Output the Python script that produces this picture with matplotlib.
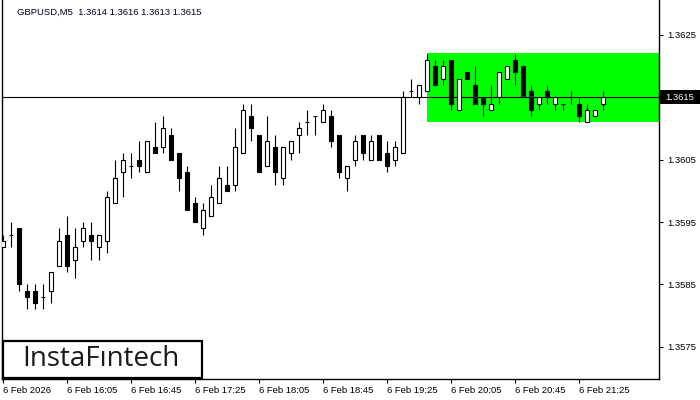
import matplotlib
matplotlib.use("Agg")
import matplotlib.pyplot as plt
import matplotlib.transforms as mtransforms
from matplotlib.patches import Rectangle

# GBPUSD M5 candles, 6 Feb 2026 from 15:25
opens = [1.3591, 1.3593, 1.3594, 1.3584, 1.3584, 1.3583, 1.3584, 1.3588, 1.3593, 1.3589,
         1.3592, 1.3593, 1.3591, 1.3592, 1.3598, 1.3603, 1.3604, 1.3605, 1.3603, 1.3607,
         1.3607, 1.3609, 1.3606, 1.3603, 1.3598, 1.3594, 1.3596, 1.3598, 1.3601, 1.3601,
         1.3606, 1.3612, 1.3609, 1.3604, 1.3607, 1.3602, 1.3606, 1.3609, 1.3611, 1.3612,
         1.3611, 1.3612, 1.3609, 1.3602, 1.3605, 1.3609, 1.3605, 1.3609, 1.3606, 1.3605,
         1.3606, 1.3616, 1.3615, 1.3616, 1.3620, 1.3618, 1.3621, 1.3613, 1.3619, 1.3617,
         1.3615, 1.3613, 1.3615, 1.3618, 1.3621, 1.3620, 1.3616, 1.3614, 1.3616, 1.3614,
         1.3614, 1.3615, 1.3614, 1.3611, 1.3612, 1.3614]
highs = [1.3593, 1.3595, 1.3594, 1.3585, 1.3585, 1.3585, 1.3587, 1.3594, 1.3596, 1.3594,
         1.3595, 1.3595, 1.3593, 1.3600, 1.3605, 1.3606, 1.3606, 1.3608, 1.3608, 1.3611,
         1.3612, 1.3610, 1.3606, 1.3604, 1.3599, 1.3598, 1.3601, 1.3604, 1.3604, 1.3610,
         1.3614, 1.3614, 1.3609, 1.3612, 1.3609, 1.3607, 1.3608, 1.3611, 1.3613, 1.3612,
         1.3614, 1.3613, 1.3609, 1.3604, 1.3609, 1.3609, 1.3609, 1.3609, 1.3608, 1.3608,
         1.3616, 1.3618, 1.3617, 1.3622, 1.3621, 1.3621, 1.3621, 1.3618, 1.3619, 1.3620,
         1.3615, 1.3617, 1.3619, 1.3620, 1.3622, 1.3620, 1.3617, 1.3615, 1.3617, 1.3615,
         1.3614, 1.3616, 1.3615, 1.3614, 1.3613, 1.3616]
lows = [1.3591, 1.3591, 1.3584, 1.3581, 1.3581, 1.3581, 1.3582, 1.3588, 1.3587, 1.3586,
        1.3591, 1.3589, 1.3589, 1.3590, 1.3598, 1.3599, 1.3602, 1.3603, 1.3603, 1.3606,
        1.3606, 1.3605, 1.3600, 1.3597, 1.3595, 1.3593, 1.3596, 1.3598, 1.3600, 1.3600,
        1.3606, 1.3608, 1.3603, 1.3604, 1.3601, 1.3601, 1.3605, 1.3606, 1.3609, 1.3609,
        1.3611, 1.3607, 1.3602, 1.3600, 1.3604, 1.3605, 1.3605, 1.3605, 1.3603, 1.3604,
        1.3606, 1.3615, 1.3614, 1.3616, 1.3617, 1.3617, 1.3613, 1.3613, 1.3618, 1.3614,
        1.3612, 1.3613, 1.3614, 1.3618, 1.3617, 1.3615, 1.3612, 1.3613, 1.3614, 1.3613,
        1.3613, 1.3614, 1.3611, 1.3611, 1.3612, 1.3613]
closes = [1.3592, 1.3593, 1.3585, 1.3583, 1.3582, 1.3583, 1.3587, 1.3592, 1.3588, 1.3591,
          1.3594, 1.3592, 1.3593, 1.3599, 1.3602, 1.3605, 1.3604, 1.3604, 1.3608, 1.3606,
          1.3610, 1.3605, 1.3602, 1.3597, 1.3595, 1.3597, 1.3599, 1.3602, 1.3600, 1.3607,
          1.3613, 1.3610, 1.3603, 1.3608, 1.3603, 1.3607, 1.3608, 1.3610, 1.3611, 1.3612,
          1.3613, 1.3608, 1.3603, 1.3604, 1.3608, 1.3606, 1.3608, 1.3605, 1.3604, 1.3607,
          1.3615, 1.3616, 1.3617, 1.3621, 1.3617, 1.3620, 1.3614, 1.3618, 1.3618, 1.3614,
          1.3614, 1.3614, 1.3619, 1.3620, 1.3619, 1.3615, 1.3613, 1.3615, 1.3615, 1.3615,
          1.3614, 1.3615, 1.3612, 1.3613, 1.3613, 1.3615]

time_labels = ["6 Feb 2026", "6 Feb 16:05", "6 Feb 16:45", "6 Feb 17:25", "6 Feb 18:05",
               "6 Feb 18:45", "6 Feb 19:25", "6 Feb 20:05", "6 Feb 20:45", "6 Feb 21:25"]
price_ticks = [1.3575, 1.3585, 1.3595, 1.3605, 1.3615, 1.3625]
last_price = 1.3615

# rectangle pattern
zone_start = 53
zone_low = 1.36111
zone_high = 1.36221

W, H = 700, 400
fig = plt.figure(figsize=(7, 4), dpi=100)
ax = fig.add_axes([2 / W, 21 / H, 657 / W, 379 / H])

n = len(opens)
xs = list(range(n))

ax.add_patch(Rectangle((zone_start, zone_low), 200, zone_high - zone_low,
                       facecolor="#00ff00", edgecolor="none", zorder=0))
ax.axhline(last_price, color="black", lw=0.8, zorder=1)

ax.vlines(xs, lows, highs, color="black", lw=0.8, zorder=2)
bottoms = [min(o, c) for o, c in zip(opens, closes)]
heights = [abs(c - o) for o, c in zip(opens, closes)]
colors = ["white" if c >= o else "black" for o, c in zip(opens, closes)]
ax.bar(xs, heights, bottom=bottoms, width=0.52, color=colors,
       edgecolor="black", linewidth=0.8, zorder=3)

ax.set_xlim(-0.125, -0.125 + 657 / 8)
ax.set_ylim(1.3615 - (379 - 97.3) / 62400, 1.3615 + 97.3 / 62400)

for s in ["left", "right", "bottom"]:
    ax.spines[s].set_linewidth(1.0)
    ax.spines[s].set_color("black")
ax.spines["top"].set_visible(False)

font = "Liberation Sans"
ax.yaxis.tick_right()
ax.set_yticks(price_ticks)
# the current price label covers its own tick label
ax.set_yticklabels(["" if p == last_price else f"{p:.4f}" for p in price_ticks],
                   fontsize=6.8, family=font)
ax.tick_params(axis="y", direction="out", length=3, width=0.8, pad=3)

ax.set_xticks(range(0, 8 * len(time_labels), 8))
ax.set_xticklabels(time_labels, fontsize=6.8, family=font, ha="left")
ax.tick_params(axis="x", direction="out", length=3, width=0.8, pad=2)

# current price box on the price scale
trans = mtransforms.blended_transform_factory(ax.transAxes, ax.transData)
ax.add_patch(Rectangle((1.0, last_price - 7 / 62400), 41 / 657, 14 / 62400,
                       transform=trans, facecolor="black", edgecolor="none",
                       clip_on=False, zorder=5))
ax.text(1.0 + 6 / 657, last_price, f"{last_price:.4f}", transform=trans,
        color="white", fontsize=6.8, family=font, va="center", ha="left",
        zorder=6, clip_on=False)

fig.text(17 / W, 1 - 12 / H, "GBPUSD,M5  1.3614 1.3616 1.3613 1.3615",
         fontsize=6.8, family=font, va="center", ha="left", color="#000020")

# logo
fig.add_artist(Rectangle((3 / W, (H - 378) / H), 199 / W, 37 / H,
                         transform=fig.transFigure, facecolor="white",
                         edgecolor="black", linewidth=1.6, zorder=10))
fig.text(101 / W, (H - 359.5) / H, "InstaF\u0131ntech", fontsize=20,
         family="Open Sans", weight="medium", ha="center", va="center",
         color="#1a1a1a", zorder=11)

fig.savefig("out.png", dpi=100)
